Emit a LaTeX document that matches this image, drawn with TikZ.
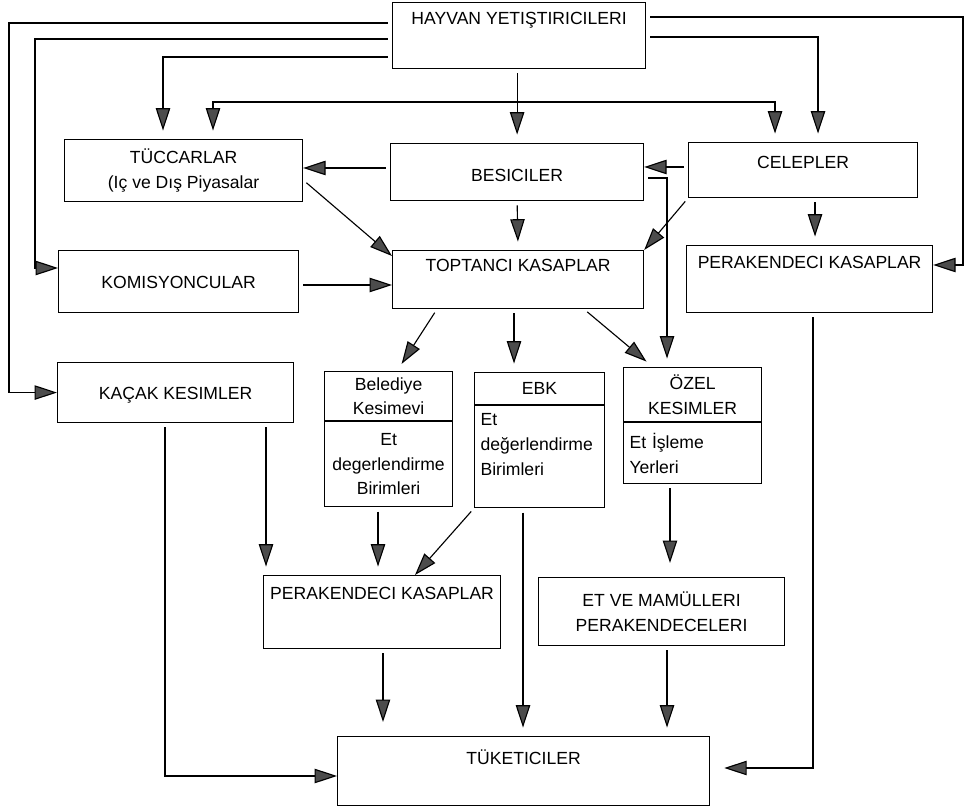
\documentclass[tikz,border=0pt]{standalone}
\usepackage{fontspec}
\setmainfont{Liberation Sans}
\usepackage{tikz}
\usetikzlibrary{arrows.meta,positioning}

\begin{document}
\begin{tikzpicture}[x=0.025cm, y=-0.025cm,
  every node/.style={font=\fontsize{12.5}{17.5}\selectfont},
  box/.style={draw, line width=0.8pt, inner sep=0pt, anchor=north west, align=center},
  part/.style={draw, line width=0.8pt, inner sep=0pt, align=center},
  lpart/.style={draw, line width=0.8pt, inner xsep=0.15cm, inner ysep=0pt, align=left},
  arr/.style={-{Triangle[length=5.6mm, width=3.6mm, fill=black!70]}, line width=0.8pt, shorten <=3pt},
  gap/.style={shorten >=6pt}]
\useasboundingbox (0,0) rectangle (967,807);

% top row
\node[box, minimum width=6.325cm, text height=0.55cm, text depth=1.1cm] (hay) at (392,2) {HAYVAN YETIŞTIRICILERI};
\node[box, minimum width=5.95cm, minimum height=1.55cm] (tuc) at (64,139) {TÜCCARLAR\\(Iç ve Dış Piyasalar};
\node[box, minimum width=6.325cm, text height=0.95cm, text depth=0.475cm] (bes) at (390,143) {BESICILER};
\node[box, minimum width=5.725cm, text height=0.65cm, text depth=0.725cm] (cel) at (688,142) {CELEPLER};

% middle rows
\node[box, minimum width=6cm, text height=0.95cm, text depth=0.6cm] (kom) at (58,250) {KOMISYONCULAR};
\node[box, minimum width=6.275cm, text height=0.525cm, text depth=0.925cm] (top) at (392,250) {TOPTANCI KASAPLAR};
\node[box, minimum width=6.15cm, text height=0.575cm, text depth=1.1cm] (per1) at (686,245) {PERAKENDECI KASAPLAR};
\node[box, minimum width=5.9cm, text height=0.925cm, text depth=0.575cm] (kac) at (57,362) {KAÇAK KESIMLER};

\node[part, anchor=north west, minimum width=3.2cm, minimum height=1.225cm] (bel) at (324,371) {Belediye\\Kesimevi};
\node[part, below=0pt of bel, minimum width=3.2cm, minimum height=2.125cm] (belb) {Et\\degerlendirme\\Birimleri};
\node[part, anchor=north west, minimum width=3.25cm, minimum height=0.8cm] (ebk) at (474,372) {EBK};
\node[lpart, below=0pt of ebk, text width=2.95cm, minimum height=2.55cm] (ebkb) {Et\\değerlendirme\\Birimleri\\ \mbox{}};
\node[part, anchor=north west, minimum width=3.45cm, minimum height=1.35cm] (oze) at (623,367) {ÖZEL\\KESIMLER};
\node[lpart, below=0pt of oze, text width=3.15cm, minimum height=1.525cm] (ozeb) {Et İşleme\\Yerleri};

% bottom rows
\node[box, minimum width=5.925cm, text height=0.6cm, text depth=1.225cm] (per2) at (263,575) {PERAKENDECI KASAPLAR};
\node[box, minimum width=6.15cm, minimum height=1.7cm] (etve) at (538,577) {ET VE MAMÜLLERI\\PERAKENDECELERI};
\node[box, minimum width=9.3cm, text height=0.7cm, text depth=1.025cm] (tuk) at (337,736) {TÜKETICILER};

% from the breeders
\draw[arr] (hay.west |- 0,23) -- (9,23) |- (kac.west);
\draw[arr] (hay.west |- 0,39) -- (35,39) |- (kom.west |- 0,268);
\draw[arr, gap] (hay.west |- 0,57) -| (tuc.north -| 163,0);
\draw[arr, gap] (bes.north |- hay.south) -- (bes.north);
\coordinate (brk) at (bes.north |- 0,102);
\draw[arr, gap, shorten <=0pt] (brk) -| (tuc.north -| 213,0);
\draw[arr, gap, shorten <=0pt] (brk) -| (cel.north -| 775,0);
\draw[arr, gap] (hay.east |- 0,37) -| (cel.north -| 818,0);
\draw[arr] (hay.east |- 0,17) -- (963,17) |- (per1.east |- 0,265);

% traders and fatteners
\draw[arr] (bes.west |- 0,168) -- (tuc.east |- 0,168);
\draw[arr] (cel.west |- 0,167) -- (bes.east |- 0,167);
\draw[arr, gap] (bes.east |- 0,178) -| (oze.north -| 667,0);
\draw[arr] (cel.south west) -- (top.north east);
\draw[arr, gap] (bes.south) -- (top.north);
\draw[arr, gap] (cel.south -| 815,0) -- (per1.north -| 815,0);
\draw[arr] (tuc.east |- 0,180) -- (top.west |- 0,256);
\draw[arr] (kom.east |- 0,285) -- (top.west |- 0,285);

% wholesale butchers
\draw[arr, gap] (top.south -| 437,0) -- (bel.north -| 397,0);
\draw[arr, gap] (top.south -| 514,0) -- (ebk.north -| 514,0);
\draw[arr, gap] (top.south -| 584,0) -- (oze.north -| 653,0);

% to the consumers
\draw[arr] (kac.south -| 165,0) |- (tuk.west |- 0,776);
\draw[arr, gap] (kac.south -| 266,0) -- (per2.north -| 266,0);
\draw[arr, gap] (belb.south -| 378,0) -- (per2.north -| 378,0);
\draw[arr] (ebkb.south west) -- (per2.north -| 415,0);
\draw[arr, gap] (ebkb.south -| 523,0) -- (tuk.north -| 523,0);
\draw[arr, shorten >=10pt] (per2.south -| 383,0) -- (tuk.north -| 383,0);
\draw[arr, shorten >=10pt] (ozeb.south -| 670,0) -- (etve.north -| 670,0);
\draw[arr, gap] (etve.south -| 667,0) -- (tuk.north -| 667,0);
\draw[arr, shorten >=10pt] (per1.south -| 813,0) |- (tuk.east |- 0,768);
\end{tikzpicture}
\end{document}
